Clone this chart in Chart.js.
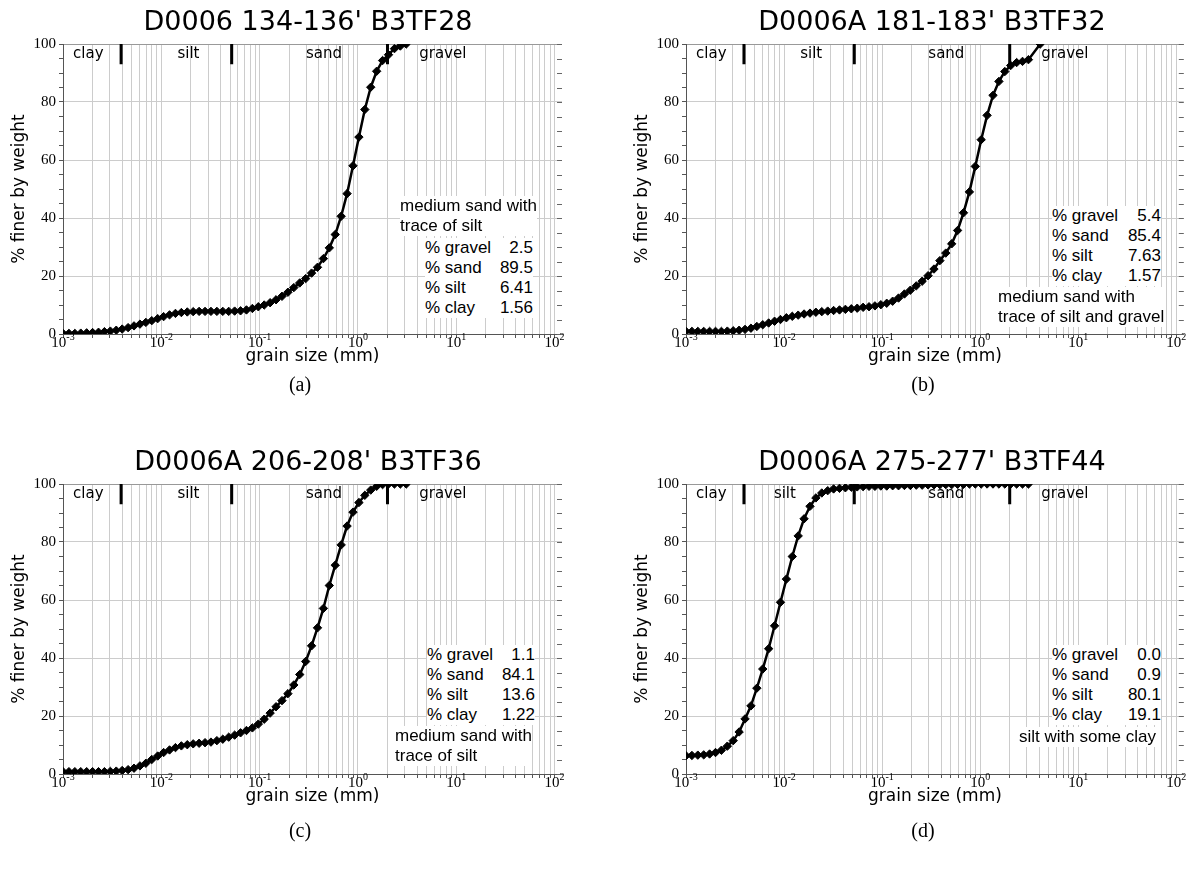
<!DOCTYPE html>
<html>
<head>
<meta charset="utf-8">
<script src="https://cdn.jsdelivr.net/npm/chart.js@4.4.1/dist/chart.umd.min.js"></script>
<style>
  body { margin: 0; background: #fff; }
  #page { position: relative; width: 1189px; height: 869px; background: #fff; overflow: hidden; }
  canvas { position: absolute; }
  .title { position: absolute; font-family: "DejaVu Sans"; font-size: 27px; color: #000; white-space: nowrap; transform: translate(-50%, -50%); }
  .cap { position: absolute; font-family: "Liberation Serif"; font-size: 20px; color: #000; transform: translate(-50%, -50%); }
  .note { position: absolute; font-family: "Liberation Sans"; font-size: 17px; line-height: 20px; background: #fff; white-space: nowrap; color: #000; }
  .tbl { position: absolute; font-family: "Liberation Sans"; font-size: 17px; line-height: 20px; background: #fff; color: #000; }
  .tbl div { display: flex; justify-content: space-between; white-space: nowrap; }
</style>
</head>
<body>
<div id="page">
  <canvas id="cA" width="595" height="380" style="left:0px;top:0px"></canvas>
  <canvas id="cB" width="566" height="380" style="left:623px;top:0px"></canvas>
  <canvas id="cC" width="595" height="380" style="left:0px;top:440px"></canvas>
  <canvas id="cD" width="566" height="380" style="left:623px;top:440px"></canvas>

  <div class="title" style="left:308px;top:20px">D0006 134-136' B3TF28</div>
  <div class="title" style="left:932px;top:20px">D0006A 181-183' B3TF32</div>
  <div class="title" style="left:308px;top:460px">D0006A 206-208' B3TF36</div>
  <div class="title" style="left:932px;top:460px">D0006A 275-277' B3TF44</div>

  <div class="note" style="left:400px;top:196px">medium sand with<br>trace of silt</div>
  <div class="tbl" style="left:425px;top:238px;width:108px">
    <div><span>% gravel</span><span>2.5</span></div>
    <div><span>% sand</span><span>89.5</span></div>
    <div><span>% silt</span><span>6.41</span></div>
    <div><span>% clay</span><span>1.56</span></div>
  </div>

  <div class="tbl" style="left:1052px;top:206px;width:109px">
    <div><span>% gravel</span><span>5.4</span></div>
    <div><span>% sand</span><span>85.4</span></div>
    <div><span>% silt</span><span>7.63</span></div>
    <div><span>% clay</span><span>1.57</span></div>
  </div>
  <div class="note" style="left:998px;top:287px">medium sand with<br>trace of silt and gravel</div>

  <div class="tbl" style="left:427px;top:645px;width:108px">
    <div><span>% gravel</span><span>1.1</span></div>
    <div><span>% sand</span><span>84.1</span></div>
    <div><span>% silt</span><span>13.6</span></div>
    <div><span>% clay</span><span>1.22</span></div>
  </div>
  <div class="note" style="left:395px;top:726px">medium sand with<br>trace of silt</div>

  <div class="tbl" style="left:1052px;top:645px;width:109px">
    <div><span>% gravel</span><span>0.0</span></div>
    <div><span>% sand</span><span>0.9</span></div>
    <div><span>% silt</span><span>80.1</span></div>
    <div><span>% clay</span><span>19.1</span></div>
  </div>
  <div class="note" style="left:1019px;top:727px">silt with some clay</div>

  <div class="cap" style="left:300px;top:384px">(a)</div>
  <div class="cap" style="left:923px;top:384px">(b)</div>
  <div class="cap" style="left:300px;top:830px">(c)</div>
  <div class="cap" style="left:923px;top:830px">(d)</div>
</div>

<script>
// grain sizes (mm) of the measured points, 0.2 phi apart
const sizes = [
  0.001000, 0.001149, 0.001320, 0.001516, 0.001741, 0.002000, 0.002297, 0.002639, 0.003031, 0.003482,
  0.004000, 0.004595, 0.005278, 0.006063, 0.006964, 0.008000, 0.009190, 0.01056, 0.01213, 0.01393,
  0.01600, 0.01838, 0.02111, 0.02425, 0.02786, 0.03200, 0.03676, 0.04222, 0.04850, 0.05572,
  0.06400, 0.07352, 0.08445, 0.09701, 0.1114, 0.1280, 0.1470, 0.1689, 0.1940, 0.2229,
  0.2560, 0.2941, 0.3378, 0.3880, 0.4457, 0.5120, 0.5881, 0.6756, 0.7761, 0.8914,
  1.024, 1.176, 1.351, 1.552, 1.783, 2.048, 2.353, 2.702, 3.104, 3.566,
  4.096
];

// % finer by weight, one list per sample
const pctA = [
  0.2, 0.2, 0.2, 0.3, 0.4, 0.5, 0.6, 0.8, 1.0, 1.3,
  1.7, 2.2, 2.8, 3.4, 4.0, 4.6, 5.3, 6.0, 6.6, 7.1,
  7.4, 7.6, 7.7, 7.8, 7.8, 7.8, 7.8, 7.8, 7.8, 7.9,
  8.0, 8.3, 8.8, 9.4, 10.0, 10.8, 11.8, 13.0, 14.4, 16.0,
  17.6, 19.1, 21.0, 23.0, 26.0, 29.7, 34.3, 40.6, 48.4, 58.0,
  67.9, 77.4, 85.1, 90.6, 94.3, 96.3, 98.4, 99.3, 100
];
const pctB = [
  0.9, 0.9, 0.9, 0.9, 0.9, 0.9, 0.9, 1.0, 1.1, 1.3,
  1.6, 2.0, 2.6, 3.2, 3.8, 4.4, 5.0, 5.6, 6.1, 6.5,
  6.9, 7.2, 7.5, 7.7, 7.9, 8.1, 8.3, 8.5, 8.7, 8.9,
  9.2, 9.4, 9.7, 10.1, 10.6, 11.3, 12.4, 13.8, 15.1, 16.6,
  18.2, 20.1, 22.4, 25.3, 27.9, 31.1, 35.7, 41.8, 49.0, 57.8,
  67.0, 75.4, 82.3, 87.1, 90.5, 92.6, 93.6, 94.0, 94.6, null,
  100
];
const pctC = [
  0.8, 0.8, 0.8, 0.8, 0.8, 0.8, 0.8, 0.8, 0.9, 1.0,
  1.2, 1.5, 2.0, 2.8, 3.7, 5.0, 6.2, 7.4, 8.3, 9.1,
  9.7, 10.1, 10.4, 10.6, 10.8, 11.0, 11.5, 12.0, 12.7, 13.4,
  14.2, 15.0, 15.9, 17.2, 18.9, 21.0, 23.2, 25.3, 27.7, 30.7,
  34.3, 38.8, 44.2, 50.4, 57.1, 65.0, 72.0, 79.0, 85.5, 90.3,
  93.6, 96.1, 97.9, 99.2, 99.8, 100, 100, 100, 100
];
const pctD = [
  6.3, 6.4, 6.5, 6.6, 6.9, 7.4, 8.2, 9.6, 11.5, 14.5,
  19.0, 23.5, 29.6, 36.2, 43.2, 51.1, 59.2, 67.2, 75.0, 82.1,
  88.0, 92.3, 95.2, 96.9, 97.7, 98.3, 98.5, 98.7, 98.9, 99.0,
  99.1, 99.2, 99.2, 99.3, 99.3, 99.4, 99.4, 99.5, 99.5, 99.6,
  99.6, 99.7, 99.7, 99.8, 99.8, 99.8, 99.9, 99.9, 100, 100,
  100, 100, 100, 100, 100, 100, 100, 100, 100
];

// clay/silt, silt/sand, sand/gravel boundaries (mm)
const boundaries = [0.0039, 0.052, 2.0];
const zoneNames = ['clay', 'silt', 'sand', 'gravel'];
const zoneAt = [0.00181, 0.0189, 0.452, 7.3];
const zoneAtD = [0.00181, 0.0102, 0.452, 7.3];

// axis ticks
const decades = [-3, -2, -1, 0, 1, 2];
const mantissas = [1, 2, 3, 4, 5, 6, 7, 8, 9];
const yTicks = [0, 5, 10, 15, 20, 25, 30, 35, 40, 45, 50, 55, 60, 65, 70, 75, 80, 85, 90, 95, 100];
const yLabels = [0, 20, 40, 60, 80, 100];

const xGrid = [];
decades.forEach(d => mantissas.forEach(m => {
  const v = m * Math.pow(10, d);
  if (v <= 100) xGrid.push(v);
}));

// 刻度標籤 10^n、右側內刻度、分區文字
const gsDecor = {
  id: 'gsDecor',
  afterDraw(chart, args, opts) {
    const {ctx, chartArea: a, scales: {x, y}} = chart;
    ctx.save();
    ctx.strokeStyle = '#666';
    ctx.lineWidth = 1;
    yTicks.forEach(v => {
      const py = Math.round(y.getPixelForValue(v)) + 0.5;
      ctx.beginPath();
      ctx.moveTo(a.right - 5, py);
      ctx.lineTo(a.right, py);
      ctx.stroke();
    });
    ctx.fillStyle = '#000';
    ctx.textBaseline = 'middle';
    ctx.textAlign = 'left';
    decades.forEach(d => {
      const px = x.getPixelForValue(Math.pow(10, d));
      const base = '10', ex = String(d);
      ctx.font = '15px "Liberation Serif"';
      const wb = ctx.measureText(base).width;
      ctx.font = '10px "Liberation Serif"';
      const we = ctx.measureText(ex).width;
      const x0 = px - (wb + we) / 2;
      ctx.font = '15px "Liberation Serif"';
      ctx.fillText(base, x0, a.bottom + 9);
      ctx.font = '10px "Liberation Serif"';
      ctx.fillText(ex, x0 + wb, a.bottom + 3);
    });
    ctx.font = '15px "DejaVu Sans"';
    ctx.textAlign = 'center';
    zoneNames.forEach((t, i) => {
      ctx.fillText(t, x.getPixelForValue(opts.zones[i]), y.getPixelForValue(96.6));
    });
    ctx.restore();
  }
};

function makeChart(id, pct, zones, padRight) {
  const curve = {
    data: pct.map((v, i) => ({x: sizes[i], y: v})),
    borderColor: '#000',
    borderWidth: 2.5,
    pointStyle: 'rectRot',
    pointRadius: 4.2,
    pointBackgroundColor: '#000',
    pointBorderColor: '#000',
    pointBorderWidth: 1,
    tension: 0,
    spanGaps: true
  };
  const bars = boundaries.map(b => ({
    data: [{x: b, y: 100}, {x: b, y: 93}],
    borderColor: '#000',
    borderWidth: 3,
    borderCapStyle: 'butt',
    pointRadius: 0
  }));
  return new Chart(document.getElementById(id), {
    type: 'line',
    data: {datasets: [curve].concat(bars)},
    plugins: [gsDecor],
    options: {
      responsive: false,
      animation: false,
      devicePixelRatio: 1,
      layout: {padding: {left: 0, top: 44, right: padRight, bottom: 0}},
      plugins: {
        legend: {display: false},
        tooltip: {enabled: false},
        gsDecor: {zones: zones}
      },
      scales: {
        x: {
          type: 'logarithmic',
          min: 0.001,
          max: 119.2,
          afterBuildTicks: s => { s.ticks = xGrid.map(v => ({value: v})); },
          afterFit: s => { s.height = 46; },
          ticks: {display: false},
          grid: {color: '#cccccc', tickColor: '#555', tickLength: 4},
          border: {color: '#555', width: 1},
          title: {display: true, text: 'grain size (mm)', color: '#000',
                  font: {family: 'DejaVu Sans', size: 17}, padding: {top: 0, bottom: 13}}
        },
        y: {
          min: 0,
          max: 100,
          afterBuildTicks: s => { s.ticks = yTicks.map(v => ({value: v})); },
          afterFit: s => { s.width = 63; },
          ticks: {
            autoSkip: false,
            padding: 3,
            color: '#000',
            font: {family: 'Liberation Serif', size: 15},
            callback: v => yLabels.includes(v) ? String(v) : ''
          },
          grid: {
            color: c => {
              if (!c.tick) return 'rgba(0,0,0,0)';
              if (c.tick.value === 100) return '#999999';
              return c.tick.value % 20 === 0 ? '#cccccc' : 'rgba(0,0,0,0)';
            },
            tickColor: '#555',
            tickLength: 4
          },
          border: {color: '#555', width: 1},
          title: {display: true, text: '% finer by weight', color: '#000',
                  font: {family: 'DejaVu Sans', size: 17}, padding: {top: 9}}
        }
      }
    }
  });
}

makeChart('cA', pctA, zoneAt, 33);
makeChart('cB', pctB, zoneAt, 4);
makeChart('cC', pctC, zoneAt, 33);
makeChart('cD', pctD, zoneAtD, 4);
</script>
</body>
</html>
